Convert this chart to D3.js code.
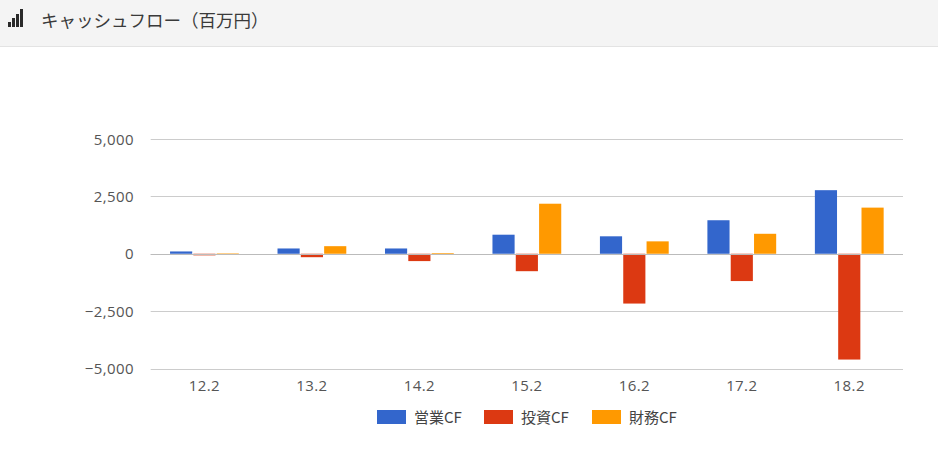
<!DOCTYPE html>
<html><head><meta charset="utf-8">
<script src="https://cdn.jsdelivr.net/npm/d3@7"></script>
<style>
html,body{margin:0;padding:0;background:#fff;}
svg{display:block;font-family:"Noto Sans CJK JP","Noto Sans",sans-serif;}
.num{font-family:"Open Sans","Noto Sans",sans-serif;}
</style></head>
<body>
<svg id="c" width="938" height="449"></svg>
<script>
const title = "キャッシュフロー（百万円）";
const categories = ["12.2","13.2","14.2","15.2","16.2","17.2","18.2"];
const seriesNames = ["営業CF","投資CF","財務CF"];
const operatingCF = [100, 230, 230, 830, 760, 1460, 2770];
const investingCF = [-70, -150, -320, -760, -2170, -1190, -4610];
const financingCF = [20, 330, 30, 2180, 540, 870, 2010];
const yTicks = [-5000, -2500, 0, 2500, 5000];
const colors = ["#3366cc","#dc3912","#ff9900"];

const series = [operatingCF, investingCF, financingCF];
const svg = d3.select("#c");

// header
svg.append("rect").attr("x",0).attr("y",0).attr("width",938).attr("height",46).attr("fill","#f4f4f4");
svg.append("line").attr("x1",0).attr("x2",938).attr("y1",46.5).attr("y2",46.5).attr("stroke","#e3e3e3");
const iconH = [5, 9, 13, 18];
svg.append("g").selectAll("rect").data(iconH).join("rect")
  .attr("x",(d,i)=>8+i*4).attr("y",d=>27-d).attr("width",3).attr("height",d=>d).attr("fill","#2a2a2a");
svg.append("text").attr("x",41).attr("y",27).attr("font-size",17.5).attr("fill","#3a3a3a").text(title);

const pLeft = 150.7, pRight = 903, pTop = 139, pBottom = 368.5;
const x = d3.scaleBand().domain(categories).range([pLeft,pRight]).paddingInner(0).paddingOuter(0);
const y = d3.scaleLinear().domain([-5000,5000]).range([pBottom,pTop]);
const groupW = x.bandwidth()*0.64;
const xi = d3.scaleBand().domain(d3.range(series.length)).range([0,groupW]).paddingInner(0.05);

// grid
svg.append("g").selectAll("line").data(yTicks).join("line")
  .attr("x1",pLeft).attr("x2",pRight)
  .attr("y1",d=>Math.round(y(d))+0.5).attr("y2",d=>Math.round(y(d))+0.5)
  .attr("stroke","#cccccc");

// y labels
svg.append("g").selectAll("text").data(yTicks).join("text")
  .attr("class","num")
  .attr("x",134).attr("y",d=>y(d)+5.5).attr("text-anchor","end")
  .attr("font-size",15).attr("letter-spacing",0.4).attr("fill","#555")
  .text(d=>d3.format(",")(d).replace("-","−"));

// bars
const g = svg.append("g");
series.forEach((vals,si)=>{
  g.selectAll(".b"+si).data(vals).join("rect")
    .attr("class","b"+si)
    .attr("x",(d,i)=>x(categories[i]) + (x.bandwidth()-groupW)/2 + xi(si))
    .attr("width",xi.bandwidth())
    .attr("y",d=>y(Math.max(0,d)))
    .attr("height",d=>Math.abs(y(d)-y(0)))
    .attr("fill",colors[si]);
});

// zero line
svg.append("line").attr("x1",pLeft).attr("x2",pRight)
  .attr("y1",Math.round(y(0))+0.5).attr("y2",Math.round(y(0))+0.5).attr("stroke","#bbbbbb");

// x labels
svg.append("g").selectAll("text").data(categories).join("text")
  .attr("class","num")
  .attr("x",d=>x(d)+x.bandwidth()/2).attr("y",391).attr("text-anchor","middle")
  .attr("font-size",15).attr("letter-spacing",0.4).attr("fill","#555").text(d=>d);

// legend
const legX = [377, 484, 592];
const lg = svg.append("g").selectAll("g").data(seriesNames).join("g")
  .attr("transform",(d,i)=>`translate(${legX[i]},410)`);
lg.append("rect").attr("width",29).attr("height",14).attr("fill",(d,i)=>colors[i]);
lg.append("text").attr("x",37).attr("y",13).attr("font-size",15).attr("fill","#444").text(d=>d);
</script>
</body></html>
